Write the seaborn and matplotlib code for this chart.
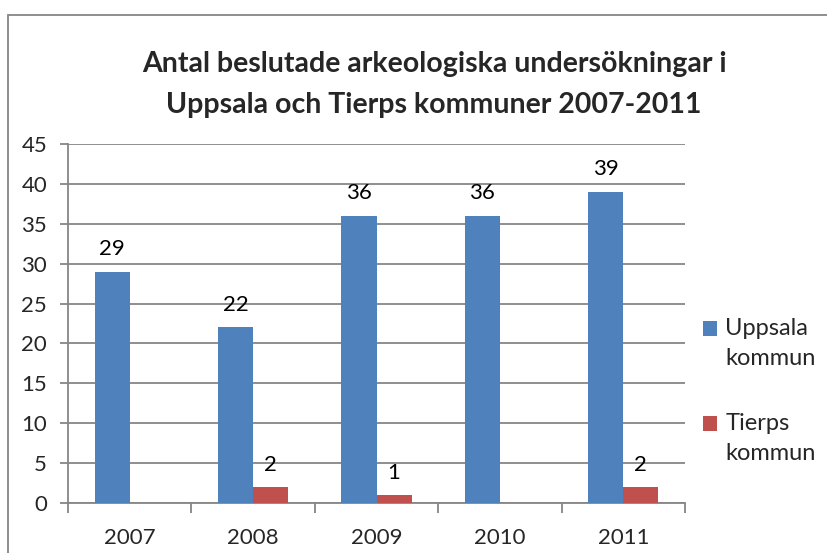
import numpy as np
import pandas as pd
import matplotlib
matplotlib.use("Agg")
import matplotlib.pyplot as plt
from matplotlib.patches import Rectangle
import seaborn as sns

years = ["2007", "2008", "2009", "2010", "2011"]
uppsala = [29, 22, 36, 36, 39]
tierps = [np.nan, 2, 1, np.nan, 2]
series_names = ["Uppsala\nkommun", "Tierps\nkommun"]
colors = ["#4F81BD", "#C0504D"]
title = "Antal beslutade arkeologiska undersökningar i\nUppsala och Tierps kommuner 2007-2011"

df = pd.DataFrame({
    "year": years * 2,
    "value": uppsala + tierps,
    "series": [series_names[0]] * len(years) + [series_names[1]] * len(years),
})

sns.set_theme(style="white")
plt.rcParams["font.family"] = ["Lato", "DejaVu Sans"]

fig = plt.figure(figsize=(8.27, 5.53), dpi=100)
ax = fig.add_axes([68 / 827, 1 - 503 / 553, (685 - 68) / 827, (503 - 144) / 553])

gridc = "#868686"
fs = 16
sns.barplot(data=df, x="year", y="value", hue="series", palette=colors,
            width=0.57, saturation=1, ax=ax, linewidth=0, zorder=3,
            legend=True)

ax.set_ylim(0, 45)
ax.set_xlim(-0.5, len(years) - 0.5)
ax.set_yticks(range(0, 46, 5))
ax.yaxis.grid(True, color=gridc, linewidth=1.3, zorder=0)
ax.set_axisbelow(True)
ax.set_xlabel("")
ax.set_ylabel("")
for s in ["top", "right"]:
    ax.spines[s].set_visible(False)
for s in ["left", "bottom"]:
    ax.spines[s].set_color(gridc)
    ax.spines[s].set_linewidth(1.3)

ax.tick_params(axis="y", which="major", length=6, width=1.3, color=gridc,
               labelsize=fs, pad=9, direction="out", left=True)
ax.tick_params(axis="x", which="major", length=0, labelsize=fs, pad=18)
ax.set_xticks(np.arange(-0.5, len(years), 1), minor=True)
ax.tick_params(axis="x", which="minor", length=7, width=1.3, color=gridc,
               direction="out", bottom=True)

for cont in ax.containers:
    for bar in cont:
        h = bar.get_height()
        if np.isnan(h):
            continue
        ax.annotate(f"{int(h)}", (bar.get_x() + bar.get_width() / 2, h),
                    xytext=(0, 9), textcoords="offset points",
                    ha="center", va="bottom", fontsize=fs, color="black")

lfs = 17
handles, labels = ax.get_legend_handles_labels()
leg = ax.legend(handles, labels, loc="center left", bbox_to_anchor=(1.0, 0.312),
                frameon=False, fontsize=lfs, handlelength=0.6, handleheight=0.6,
                handletextpad=0.35, labelspacing=1.85, borderaxespad=0.35)
for t in leg.get_texts():
    t.set_linespacing(1.52)
for hp in leg.legend_handles:
    hp.set_y(hp.get_y() + 11)

fig.text(0.525, 1 - 84.5 / 553, title, ha="center", va="center",
         fontsize=20.5, fontweight="bold", linespacing=1.72)

fig.patches.append(Rectangle((8 / 827, -0.05), 1.05, 1 - 14.5 / 553 + 0.05,
                             transform=fig.transFigure, fill=False,
                             edgecolor=gridc, linewidth=1.3))

fig.savefig("out.png", dpi=100)
